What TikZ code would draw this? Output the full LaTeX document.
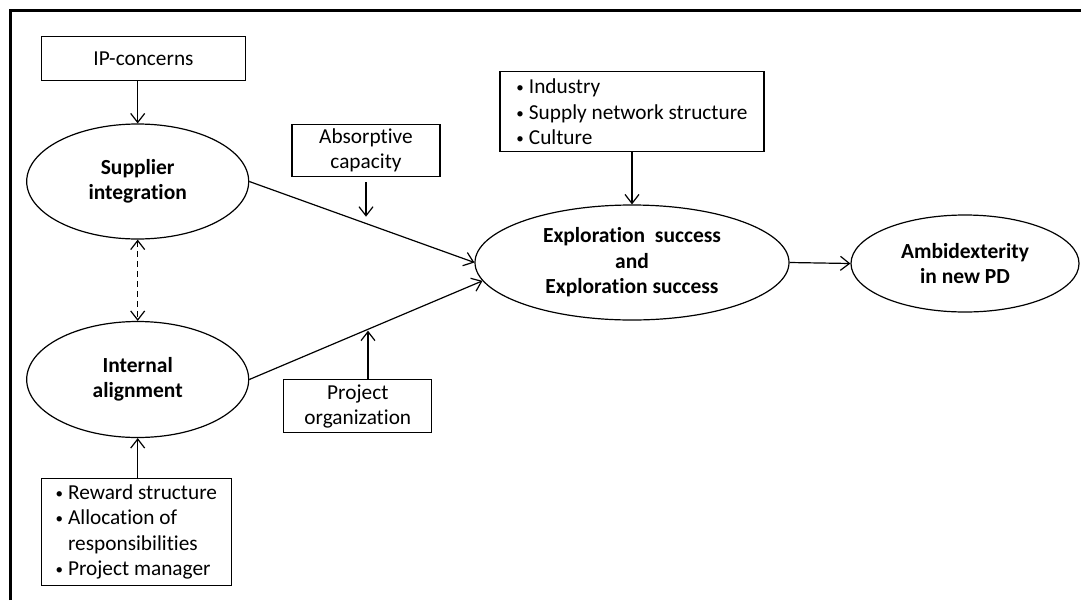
\documentclass[tikz,border=0pt]{standalone}
\usepackage{fontspec}
\setmainfont{Carlito}[Ligatures={NoCommon,NoContextual}]
\usetikzlibrary{arrows.meta,shapes.geometric}
\newcommand{\bul}{{\fontsize{15}{15}\selectfont\raisebox{1pt}{\textbullet}}\hspace{5pt}}

\begin{document}
\begin{tikzpicture}[x=1pt,y=-1pt,
  font=\fontsize{21.3}{25.5}\selectfont,
  box/.style={draw,line width=1.2pt,inner sep=0pt,align=center},
  oval/.style={draw,ellipse,line width=1.2pt,inner sep=0pt,align=center,
    font=\fontsize{21.5}{25.5}\selectfont\bfseries},
  arr/.style={line width=1.2pt,-{Straight Barb[length=9pt,width=14pt]}}]
  \useasboundingbox (0,0) rectangle (1081,600);
  \draw[line width=3pt] (10,600) -- (10,10.8) -- (1081,10.8);

  % constructs
  \node[oval,minimum width=222pt,minimum height=115pt] (sup) at (137.7,181.5) {Supplier\\integration};
  \node[oval,minimum width=222pt,minimum height=116pt] (intl) at (137.7,379.5) {Internal\\alignment};
  \node[oval,minimum width=314pt,minimum height=115pt] (expl) at (632,262.5) {Exploration~ success\\and\\Exploration success};
  \node[oval,minimum width=228pt,minimum height=97pt] (amb) at (965,263.5) {Ambidexterity\\in new PD};

  % moderators and antecedents
  \node[box,minimum width=204pt,minimum height=44pt] (ip) at (143.5,58.5) {IP-concerns};
  \node[box,minimum width=148pt,minimum height=52pt] (abs) at (366,150.3) {Absorptive\\capacity};
  \node[box,minimum width=148pt,minimum height=53pt] (org) at (357.8,406.3) {Project\\organization};
  \node[box,align=left,minimum width=264pt,minimum height=80pt] (ctx) at (632,111.8)
    {\bul Industry\\\bul Supply network structure\\\bul Culture};
  \node[box,align=left,minimum width=190pt,minimum height=107pt] (fac) at (136.3,532)
    {\bul Reward structure\\\bul Allocation of\\\phantom{\bul}responsibilities\\\bul Project manager};

  \coordinate (m1) at (366,216.7);
  \coordinate (m2) at (368,330.7);

  % relations
  \draw[arr] (sup.north |- ip.south) -- (sup.north);
  \draw[arr] (intl.south |- fac.north) -- (intl.south);
  \draw[line width=1.2pt,dashed,dash pattern=on 6pt off 4pt,{Straight Barb[length=9pt,width=14pt]}-{Straight Barb[length=9pt,width=14pt]}] (sup.south) -- (intl.north);
  \draw[arr] (sup.east) -- (expl.west);
  \draw[arr] (intl.east) -- (expl.187);
  \draw[arr] ([yshift=-5.4pt]abs.south) -- (m1);
  \draw[arr] ([xshift=10.2pt]org.north) -- (m2);
  \draw[arr] (ctx.south) -- (expl.north);
  \draw[arr] (expl.east) -- (amb.west);
\end{tikzpicture}
\end{document}
